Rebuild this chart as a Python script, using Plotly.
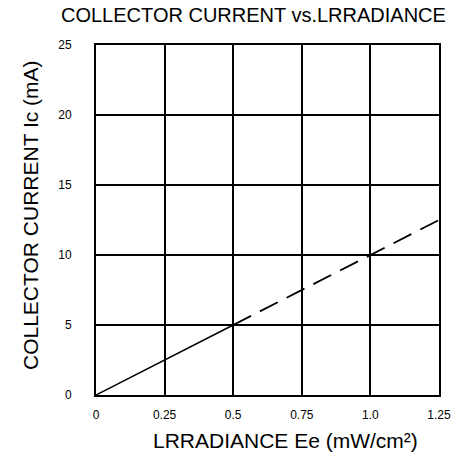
import plotly.graph_objects as go

# Data
irradiance_solid = [0, 0.5]
current_solid = [0, 5]
irradiance_dashed = [0.5, 1.25]
current_dashed = [5, 12.5]
x_ticks = [0, 0.25, 0.5, 0.75, 1.0, 1.25]
x_tick_labels = ["0", "0.25", "0.5", "0.75", "1.0", "1.25"]
y_ticks = [0, 5, 10, 15, 20, 25]
y_tick_labels = ["0", "5", "10", "15", "20", "25"]

FONT = "Liberation Sans"

fig = go.Figure()
fig.add_trace(go.Scatter(x=irradiance_solid, y=current_solid, mode="lines",
                         line=dict(color="black", width=1.5), showlegend=False))
fig.add_trace(go.Scatter(x=irradiance_dashed, y=current_dashed, mode="lines",
                         line=dict(color="black", width=1.8, dash="20px,10px"), showlegend=False))

fig.update_layout(
    width=463, height=470,
    margin=dict(l=96, r=20, t=45, b=75),
    paper_bgcolor="white", plot_bgcolor="white",
    font=dict(family=FONT, color="black", size=12),
    xaxis=dict(range=[0, 1.25], tickvals=x_ticks, ticktext=x_tick_labels,
               showgrid=True, gridcolor="black", gridwidth=1.5,
               showline=True, linecolor="black", linewidth=2, mirror=True,
               zeroline=False, ticks="", ticklabelstandoff=8,
               tickfont=dict(size=12, family=FONT)),
    yaxis=dict(range=[0, 25], tickvals=y_ticks, ticktext=y_tick_labels,
               showgrid=True, gridcolor="black", gridwidth=1.5,
               showline=True, linecolor="black", linewidth=2, mirror=True,
               zeroline=False, ticks="", ticklabelstandoff=20,
               tickfont=dict(size=12, family=FONT)),
    annotations=[
        dict(text="COLLECTOR CURRENT vs.LRRADIANCE", xref="paper", yref="paper",
             x=(255 - 96) / 347, y=1, yshift=30, xanchor="center", yanchor="middle",
             showarrow=False, font=dict(size=20, family=FONT)),
        dict(text="LRRADIANCE Ee (mW/cm²)", xref="paper", yref="paper",
             x=(288 - 96) / 347, y=0, yshift=-45, xanchor="center", yanchor="middle",
             showarrow=False, font=dict(size=21, family=FONT)),
        dict(text="COLLECTOR CURRENT Ic (mA)", xref="paper", yref="paper",
             x=0, xshift=-66, y=(395 - 215) / 350, xanchor="center", yanchor="middle",
             textangle=-90, showarrow=False, font=dict(size=21, family=FONT)),
    ],
)

fig.write_html(
    "out.html",
    config={"displayModeBar": False},
    post_script="document.body.style.margin='0';document.body.style.overflow='hidden';",
)
